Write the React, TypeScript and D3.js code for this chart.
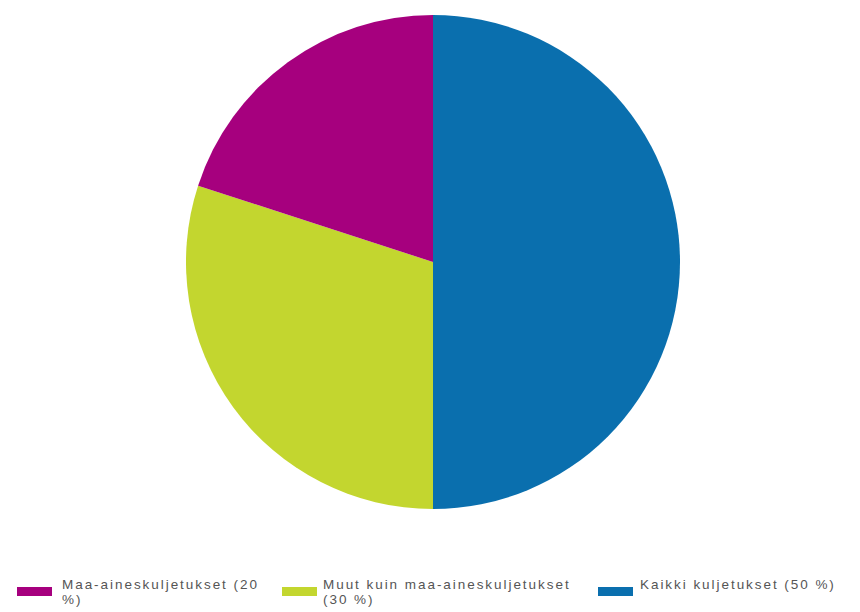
import React from "react";
import * as d3 from "d3";

const categories = ["Maa-aineskuljetukset (20 %)", "Muut kuin maa-aineskuljetukset (30 %)", "Kaikki kuljetukset (50 %)"];
const values = [20, 30, 50];
const colors = ["#a6007e", "#c3d62f", "#0a6fae"];
const legendLines = [
  ["Maa-aineskuljetukset (20", "%)"],
  ["Muut kuin maa-aineskuljetukset", "(30 %)"],
  ["Kaikki kuljetukset (50 %)"],
];

const W = 860;
const H = 612;
const cx = 433;
const cy = 262;
const R = 247;

export default function App() {
  const order = [2, 1, 0];
  const pie = d3
    .pie<number>()
    .sort(null)
    .value((i) => values[i]);
  const arcs = pie(order);
  const arcGen = d3.arc<d3.PieArcDatum<number>>().innerRadius(0).outerRadius(R);

  const legendX = d3.scaleOrdinal<number, number>().domain([0, 1, 2]).range([17, 282, 598]);
  const swW = 35;
  const gap = [10, 6, 7];

  return (
    <svg
      width={W}
      height={H}
      style={{ position: "absolute", left: 0, top: 0, background: "#fff" }}
      fontFamily="'Liberation Sans', Arial, sans-serif"
    >
      <g transform={`translate(${cx},${cy})`}>
        {arcs.map((a) => (
          <path key={a.data} d={arcGen(a) || ""} fill={colors[a.data]} />
        ))}
      </g>
      {categories.map((c, i) => {
        const x = legendX(i);
        const tx = x + swW + gap[i];
        return (
          <g key={c}>
            <rect x={x} y={587} width={swW} height={9} fill={colors[i]} />
            <text x={tx} y={589} fontSize={13.5} fill="#555" letterSpacing={1.95}>
              {legendLines[i].map((l, j) => (
                <tspan key={j} x={tx} dy={j === 0 ? 0 : 15}>
                  {l}
                </tspan>
              ))}
            </text>
          </g>
        );
      })}
    </svg>
  );
}
